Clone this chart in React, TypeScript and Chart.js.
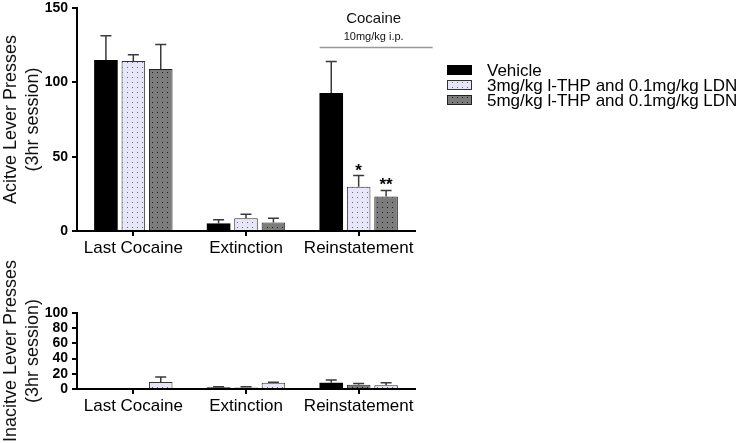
import React, { useEffect, useRef } from "react";
import { Chart, registerables } from "chart.js";

Chart.register(...registerables);

const categories = ["Last Cocaine", "Extinction", "Reinstatement"];
const seriesLabels = [
  "Vehicle",
  "3mg/kg l-THP and 0.1mg/kg LDN",
  "5mg/kg l-THP and 0.1mg/kg LDN",
];

// Active lever presses (top panel)
const activeVehicle = [115, 5.1, 92.9];
const activeVehicleErr = [16.3, 2.5, 21.1];
const active3mg = [114.3, 8.5, 29.7];
const active3mgErr = [4.2, 2.7, 7.6];
const active5mg = [109, 5.8, 23.2];
const active5mgErr = [16.5, 2.7, 4.1];
const active3mgSig = ["", "", "*"];
const active5mgSig = ["", "", "**"];
const activeTicks = [0, 50, 100, 150];

// Inactive lever presses (bottom panel)
const inactiveVehicle = [0, 2, 8.2];
const inactiveVehicleErr = [0, 1, 3.8];
const inactive5mg = [0, 2, 5.6];
const inactive5mgErr = [0, 1, 1.7];
const inactive3mg = [9.1, 8.2, 4.8];
const inactive3mgErr = [6.6, 0.8, 3.4];
const inactiveTicks = [0, 20, 40, 60, 80, 100];

const cocaineLabel = "Cocaine";
const cocaineDose = "10mg/kg i.p.";

const FONT = "'Liberation Sans', Arial, sans-serif";

function makePattern(bg: string, dot: string) {
  const c = document.createElement("canvas");
  c.width = 5;
  c.height = 5;
  const g = c.getContext("2d")!;
  g.fillStyle = bg;
  g.fillRect(0, 0, 5, 5);
  g.fillStyle = dot;
  g.fillRect(2, 2, 1, 1);
  return g.createPattern(c, "repeat")!;
}

const errorBarPlugin = {
  id: "errorBars",
  afterDatasetsDraw(chart: any) {
    const ctx = chart.ctx;
    const y = chart.scales.y;
    chart.data.datasets.forEach((ds: any, di: number) => {
      const meta = chart.getDatasetMeta(di);
      meta.data.forEach((bar: any, i: number) => {
        const v = ds.data[i];
        const e = ds.errors ? ds.errors[i] : 0;
        if (!e) return;
        const top = y.getPixelForValue(v + e);
        const base = y.getPixelForValue(v);
        ctx.save();
        ctx.strokeStyle = "#3a3a3a";
        ctx.lineWidth = 1.5;
        ctx.beginPath();
        ctx.moveTo(bar.x, base);
        ctx.lineTo(bar.x, top);
        ctx.moveTo(bar.x - 5.5, top);
        ctx.lineTo(bar.x + 5.5, top);
        ctx.stroke();
        if (ds.sig && ds.sig[i]) {
          ctx.fillStyle = "#000";
          ctx.font = `bold 17px ${FONT}`;
          ctx.textAlign = "center";
          ctx.textBaseline = "alphabetic";
          ctx.fillText(ds.sig[i], bar.x, top);
        }
        ctx.restore();
      });
    });
  },
};

const cocainePlugin = {
  id: "cocaineNote",
  afterDraw(chart: any) {
    const opts = chart.options.plugins.cocaineNote;
    if (!opts || !opts.enabled) return;
    const ctx = chart.ctx;
    const x = chart.scales.x;
    const cx = x.getPixelForValue(2);
    const left = cx - 39;
    const right = cx + 74;
    const mid = cx + 15;
    ctx.save();
    ctx.fillStyle = "#111";
    ctx.textAlign = "center";
    ctx.textBaseline = "middle";
    ctx.font = `15px ${FONT}`;
    ctx.fillText(cocaineLabel, mid, 19);
    ctx.font = `11px ${FONT}`;
    ctx.fillText(cocaineDose, mid, 37);
    ctx.strokeStyle = "#999";
    ctx.lineWidth = 1.5;
    ctx.beginPath();
    ctx.moveTo(left, 47.5);
    ctx.lineTo(right, 47.5);
    ctx.stroke();
    ctx.restore();
  },
};

const legendPlugin = {
  id: "customLegend",
  afterDraw(chart: any) {
    const opts = chart.options.plugins.customLegend;
    if (!opts || !opts.enabled) return;
    const ctx = chart.ctx;
    const order = opts.order as number[];
    ctx.save();
    order.forEach((di, row) => {
      const ds = chart.data.datasets[di];
      const yc = 70 + row * 15;
      ctx.fillStyle = ds.backgroundColor;
      ctx.fillRect(447, yc - 5, 25, 10);
      if (ds.borderWidth) {
        ctx.strokeStyle = ds.borderColor;
        ctx.lineWidth = 1;
        ctx.strokeRect(447.5, yc - 4.5, 24, 9);
      }
      ctx.fillStyle = "#000";
      ctx.font = `17px ${FONT}`;
      ctx.textAlign = "left";
      ctx.textBaseline = "middle";
      ctx.fillText(ds.label, 487, yc + 1);
    });
    ctx.restore();
  },
};

function makeOptions(
  ticks: number[],
  max: number,
  step: number,
  title: string,
  padTop: number,
  xHeight: number,
  extra: any
) {
  return {
    responsive: false,
    animation: false as const,
    layout: { padding: { top: padTop, right: 332, left: 0, bottom: 0 } },
    plugins: {
      legend: { display: false },
      tooltip: { enabled: false },
      ...extra,
    },
    scales: {
      x: {
        type: "category" as const,
        offset: true,
        grid: {
          offset: false,
          drawOnChartArea: false,
          drawTicks: true,
          tickLength: 5,
          color: "#000",
          lineWidth: 2,
        },
        border: { display: true, color: "#000", width: 2 },
        ticks: {
          color: "#000",
          padding: 2,
          font: { family: FONT, size: 17 },
          maxRotation: 0,
        },
        afterFit(scale: any) {
          scale.height = xHeight;
        },
      },
      y: {
        min: 0,
        max,
        afterBuildTicks(scale: any) {
          scale.ticks = ticks.map((v) => ({ value: v }));
        },
        grid: {
          drawOnChartArea: false,
          drawTicks: true,
          tickLength: 5,
          color: "#000",
          lineWidth: 2,
        },
        border: { display: true, color: "#000", width: 2 },
        ticks: {
          stepSize: step,
          autoSkip: false,
          color: "#000",
          padding: 4,
          font: { family: FONT, size: 14, weight: "bold" as const },
        },
        title: {
          display: true,
          text: [title, "(3hr session)"],
          color: "#111",
          font: { family: FONT, size: 18, lineHeight: 1.22 },
          padding: { top: 0, bottom: 0 },
        },
        afterFit(scale: any) {
          scale.width = 77;
          scale.paddingTop = 0;
        },
      },
    },
  };
}

export default function App() {
  const topRef = useRef<HTMLCanvasElement>(null);
  const botRef = useRef<HTMLCanvasElement>(null);

  useEffect(() => {
    document.body.style.margin = "0";
    const lightPat = makePattern("#e6e6f8", "#6a6a80");
    const darkPat = makePattern("#7c7c7c", "#1e1e1e");
    const barPct = 0.86;
    const catPct = 0.73;

    const vehicleStyle = { backgroundColor: "#000", borderWidth: 0 };
    const lightStyle = { backgroundColor: lightPat, borderColor: "#333", borderWidth: 1 };
    const darkStyle = { backgroundColor: darkPat, borderColor: "#222", borderWidth: 1 };

    const top = new Chart(topRef.current!, {
      type: "bar",
      data: {
        labels: categories,
        datasets: [
          { label: seriesLabels[0], data: activeVehicle, errors: activeVehicleErr, ...vehicleStyle, barPercentage: barPct, categoryPercentage: catPct } as any,
          { label: seriesLabels[1], data: active3mg, errors: active3mgErr, sig: active3mgSig, ...lightStyle, barPercentage: barPct, categoryPercentage: catPct } as any,
          { label: seriesLabels[2], data: active5mg, errors: active5mgErr, sig: active5mgSig, ...darkStyle, barPercentage: barPct, categoryPercentage: catPct } as any,
        ],
      },
      options: makeOptions(activeTicks, 150, 50, "Acitve Lever Presses", 8, 27, {
        cocaineNote: { enabled: true },
        customLegend: { enabled: true, order: [0, 1, 2] },
      }) as any,
      plugins: [errorBarPlugin, cocainePlugin, legendPlugin],
    });

    const bot = new Chart(botRef.current!, {
      type: "bar",
      data: {
        labels: categories,
        datasets: [
          { label: seriesLabels[0], data: inactiveVehicle, errors: inactiveVehicleErr, ...vehicleStyle, barPercentage: barPct, categoryPercentage: catPct } as any,
          { label: seriesLabels[2], data: inactive5mg, errors: inactive5mgErr, ...darkStyle, barPercentage: barPct, categoryPercentage: catPct } as any,
          { label: seriesLabels[1], data: inactive3mg, errors: inactive3mgErr, ...lightStyle, barPercentage: barPct, categoryPercentage: catPct } as any,
        ],
      },
      options: makeOptions(inactiveTicks, 100, 20, "Inacitve Lever Presses", 53, 54, {}) as any,
      plugins: [errorBarPlugin],
    });

    return () => {
      top.destroy();
      bot.destroy();
    };
  }, []);

  return (
    <div style={{ position: "relative", width: 747, height: 443, background: "#fff" }}>
      <canvas ref={topRef} width={747} height={258} style={{ position: "absolute", left: 0, top: 0 }} />
      <canvas ref={botRef} width={747} height={183} style={{ position: "absolute", left: 0, top: 260 }} />
    </div>
  );
}
